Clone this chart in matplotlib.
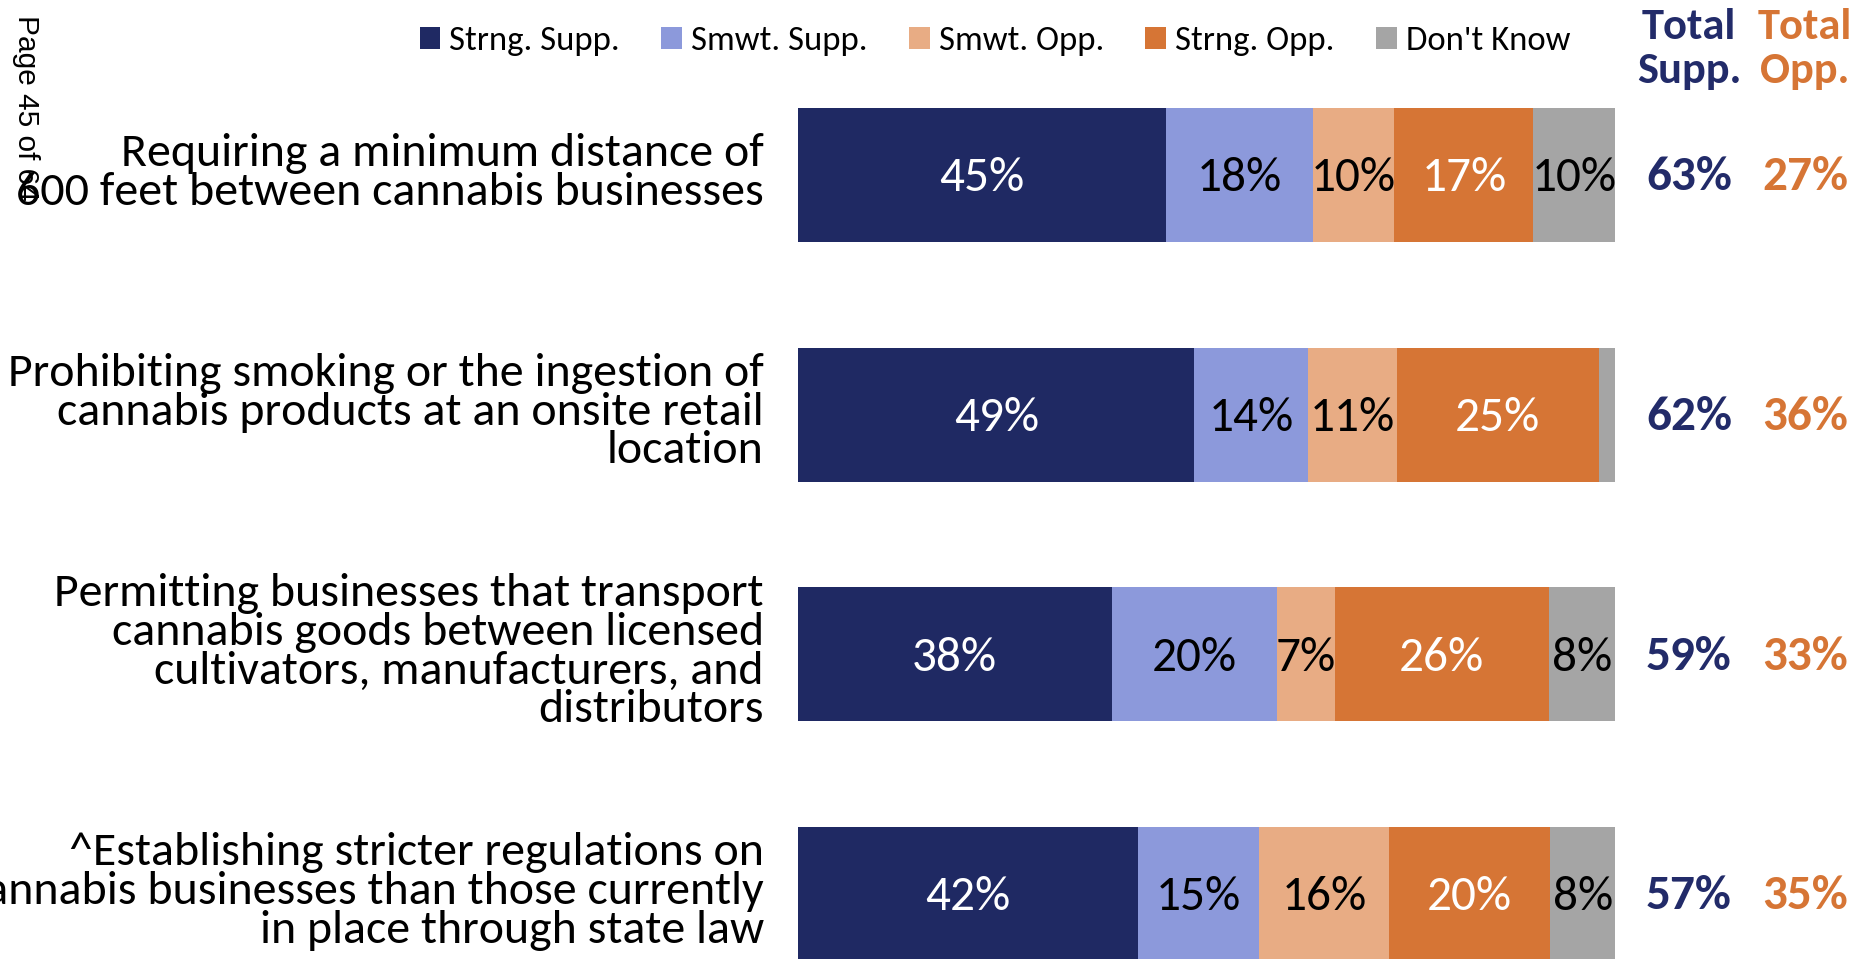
import matplotlib
matplotlib.use("Agg")
import matplotlib.pyplot as plt
import matplotlib.transforms as mtransforms
import numpy as np

categories = [
    "Requiring a minimum distance of\n600 feet between cannabis businesses",
    "Prohibiting smoking or the ingestion of\ncannabis products at an onsite retail\nlocation",
    "Permitting businesses that transport\ncannabis goods between licensed\ncultivators, manufacturers, and\ndistributors",
    "^Establishing stricter regulations on\ncannabis businesses than those currently\nin place through state law",
]
series_names = ["Strng. Supp.", "Smwt. Supp.", "Smwt. Opp.", "Strng. Opp.", "Don't Know"]
strong_supp = [45, 49, 38, 42]
smwt_supp = [18, 14, 20, 15]
smwt_opp = [10, 11, 7, 16]
strong_opp = [17, 25, 26, 20]
dont_know = [10, 2, 8, 8]
total_supp = [63, 62, 59, 57]
total_opp = [27, 36, 33, 35]

colors = ["#1F2963", "#8C99DB", "#E8AC84", "#D67535", "#A5A5A5"]
label_colors = ["white", "black", "black", "white", "black"]
navy_txt = "#222B69"
orange_txt = "#D67535"

FONT = ["Carlito", "Lato", "DejaVu Sans"]
plt.rcParams["font.family"] = FONT

fig = plt.figure(figsize=(18.56, 9.59), dpi=100)
ax = fig.add_axes([0.43, -0.0571, 0.4402, 0.9995])

data = np.array([strong_supp, smwt_supp, smwt_opp, strong_opp, dont_know], dtype=float)
norm = data / data.sum(axis=0) * 100.0
y = np.arange(len(categories))
left = np.zeros(len(categories))
handles = []
for i, name in enumerate(series_names):
    bars = ax.barh(y, norm[i], left=left, height=0.56, color=colors[i],
                   edgecolor="none", label=name)
    handles.append(bars)
    for j in range(len(categories)):
        if data[i, j] >= 5:
            ax.text(left[j] + norm[i, j] / 2, y[j] + 0.014, f"{int(data[i, j])}%",
                    ha="center", va="center", fontsize=35.5,
                    color=label_colors[i])
    left += norm[i]

ax.set_xlim(0, 100)
ax.set_ylim(3.5, -0.5)
ax.axis("off")

# category labels
for j, cat in enumerate(categories):
    ax.text(-4.2, y[j] - 0.01, cat, ha="right", va="center", fontsize=34.5,
            linespacing=0.93, color="black")

# totals
blend = mtransforms.blended_transform_factory(fig.transFigure, ax.transData)
for j in range(len(categories)):
    ax.text(0.910, y[j] + 0.01, f"{total_supp[j]}%", transform=blend, ha="center",
            va="center", fontsize=35.5, fontweight="bold", color=navy_txt)
    ax.text(0.9726, y[j] + 0.01, f"{total_opp[j]}%", transform=blend, ha="center",
            va="center", fontsize=35.5, fontweight="bold", color=orange_txt)

fig.text(0.910, 0.949, "Total\nSupp.", ha="center", va="center", fontsize=32,
         fontweight="bold", color=navy_txt, linespacing=1.18)
fig.text(0.9726, 0.949, "Total\nOpp.", ha="center", va="center", fontsize=32,
         fontweight="bold", color=orange_txt, linespacing=1.18)

# legend
leg = fig.legend(handles=handles, labels=series_names, loc="center",
                 bbox_to_anchor=(0.536, 0.957), ncol=5, frameon=False,
                 fontsize=25, handlelength=0.6, handleheight=0.6,
                 handletextpad=0.25, columnspacing=1.2, borderaxespad=0)

# page marker
fig.text(0.014, 0.888, "Page 45 of 64", rotation=-90, ha="center", va="center",
         fontsize=21.5, family=["Liberation Sans", "DejaVu Sans"], color="black")

fig.savefig("out.png", dpi=100)
